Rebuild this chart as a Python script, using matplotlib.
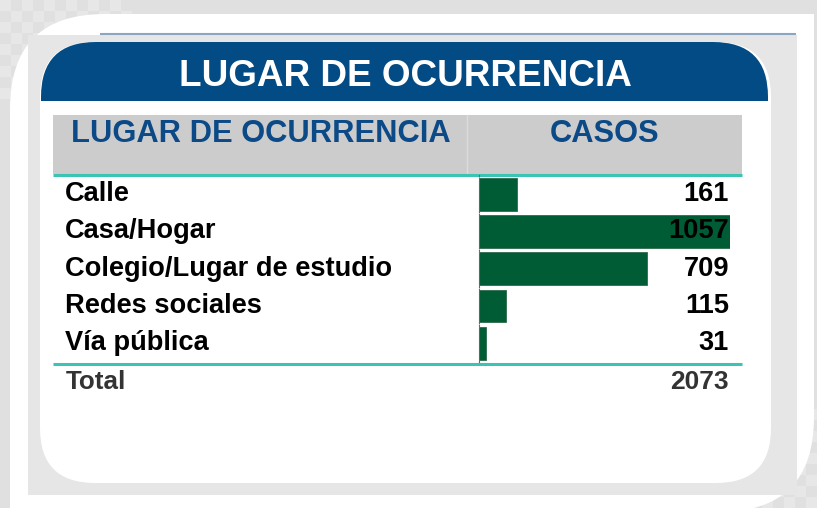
import matplotlib
matplotlib.use("Agg")
import matplotlib.pyplot as plt
from matplotlib.patches import FancyBboxPatch, Rectangle
from matplotlib import transforms

# ---- data ----
title = "LUGAR DE OCURRENCIA"
col_headers = ["LUGAR DE OCURRENCIA", "CASOS"]
lugares = ["Calle", "Casa/Hogar", "Colegio/Lugar de estudio", "Redes sociales", "Vía pública"]
casos = [161, 1057, 709, 115, 31]
total_label = "Total"
total_value = 2073

W, H = 817, 508
fig = plt.figure(figsize=(W / 100, H / 100), dpi=100)
fig.patch.set_facecolor("#e0e0e0")
plt.rcParams["font.family"] = ["Liberation Sans", "DejaVu Sans"]

bg = fig.add_axes([0, 0, 1, 1])
bg.set_xlim(0, W)
bg.set_ylim(H, 0)
bg.axis("off")
bg.set_zorder(0)

def rrect(x0, y0, x1, y1, r, color, z):
    p = FancyBboxPatch((x0, y0), x1 - x0, y1 - y0,
                       boxstyle=f"round,pad=0,rounding_size={r}",
                       fc=color, ec="none", zorder=z)
    bg.add_patch(p)

# subtle checker in corners
for i in range(0, 12):
    for j in range(0, 10):
        if (i + j) % 2 == 0:
            bg.add_patch(Rectangle((i * 11, j * 11), 11, 11, fc="#e7e7e7", ec="none", zorder=0.5))
            bg.add_patch(Rectangle((W - 11 - i * 11, H - 11 - j * 11), 11, 11, fc="#e7e7e7", ec="none", zorder=0.5))

# outer white frame (rounded top-left and bottom-right)
rrect(10, 14, 814, 512, 95, "white", 1)
bg.add_patch(Rectangle((700, 14), 114, 120, fc="white", ec="none", zorder=1))
bg.add_patch(Rectangle((10, 400), 120, 110, fc="white", ec="none", zorder=1))
# inner gray frame
bg.add_patch(Rectangle((28, 35), 797 - 28, 495 - 35, fc="#e6e6e6", ec="none", zorder=2))
bg.plot([100, 796], [33.5, 33.5], color="#8aa6c2", lw=1.5, zorder=2.5, solid_capstyle="butt")
# white panel
rrect(40, 42, 771, 483, 55, "white", 3)
# blue header with rounded top corners
rrect(41, 42, 768, 170, 55, "#024b84", 4)
bg.add_patch(Rectangle((40, 101), 731, 80, fc="white", ec="none", zorder=4.5))
bg.text(405, 76, title, color="white", fontsize=26.6, fontweight="bold",
        ha="center", va="center", zorder=5)

# table header
bg.add_patch(Rectangle((53, 115), 742 - 53, 174 - 115, fc="#cccccc", ec="none", zorder=5))
bg.plot([467.5, 467.5], [115, 174], color="#dcdcdc", lw=1, zorder=5.5)
bg.text(71, 134, col_headers[0], color="#0b4a87", fontsize=22.2, fontweight="bold",
        ha="left", va="center", zorder=6)
bg.text(605, 134, col_headers[1], color="#0b4a87", fontsize=22.2, fontweight="bold",
        ha="center", va="center", zorder=6)
bg.plot([53, 742], [175, 175], color="#3cc3b5", lw=2.2, zorder=6, solid_capstyle="butt")
bg.plot([53, 742], [363.5, 363.5], color="#3cc3b5", lw=2.2, zorder=6, solid_capstyle="butt")

# total row
bg.text(66, 382, total_label, color="#333333", fontsize=18.7, fontweight="bold",
        ha="left", va="center", zorder=6)
bg.text(729, 382, f"{total_value}", color="#333333", fontsize=19, fontweight="bold",
        ha="right", va="center", zorder=6)

# bar axes
x0, x1 = 479, 730
y_top, y_bot = 175.5, 362
ax = fig.add_axes([x0 / W, 1 - y_bot / H, (x1 - x0) / W, (y_bot - y_top) / H])
ax.set_zorder(2)
ax.patch.set_alpha(0)
n = len(lugares)
ypos = list(range(n))
ax.barh(ypos, casos, height=0.88, color="#005c35", edgecolor="#2e6b4c", lw=0.6)
ax.set_xlim(0, max(casos))
ax.set_ylim(n - 0.5, -0.5)
for s in ["top", "right", "bottom"]:
    ax.spines[s].set_visible(False)
ax.spines["left"].set_linestyle((0, (1, 1.5)))
ax.spines["left"].set_color("#666666")
ax.spines["left"].set_linewidth(0.8)
ax.set_xticks([])
ax.set_yticks([])

tr_lab = transforms.blended_transform_factory(bg.transData, ax.transData)
for i, (lab, v) in enumerate(zip(lugares, casos)):
    ax.text(65, i, lab, transform=tr_lab, ha="left", va="center",
            fontsize=19.6, fontweight="bold", color="black", clip_on=False)
    ax.text(729, i, f"{v}", transform=tr_lab, ha="right", va="center",
            fontsize=19.6, fontweight="bold", color="black", clip_on=False, zorder=5)

fig.savefig("out.png", dpi=100, facecolor=fig.get_facecolor())
